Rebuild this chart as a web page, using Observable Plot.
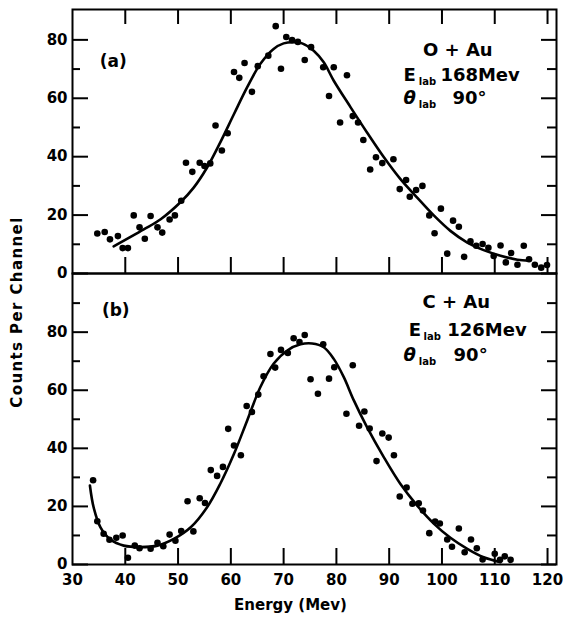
<!DOCTYPE html>
<html>
<head>
<meta charset="utf-8">
<script src="https://cdn.jsdelivr.net/npm/d3@7"></script>
<script src="https://cdn.jsdelivr.net/npm/@observablehq/plot@0.6"></script>
<style>
  html, body { margin: 0; padding: 0; background: #fff; overflow: hidden; }
  #chart { position: relative; width: 563px; height: 629px; font-family: "DejaVu Sans", sans-serif; color: #000; }
  #chart svg { display: block; }
  .ylabel {
    position: absolute; left: 17px; top: 312px;
    transform: translate(-50%, -50%) rotate(-90deg);
    white-space: nowrap; font-weight: bold; font-size: 15px; letter-spacing: 1.4px;
  }
</style>
</head>
<body>
<div id="chart"><div class="ylabel">Counts Per Channel</div></div>
<script>
// Energy axis ticks and count axis ticks
const xTickLabels = [30, 40, 50, 60, 70, 80, 90, 100, 110, 120];
const xInnerTicks = [40, 50, 60, 70, 80, 90, 100, 110, 120];
const yMajor = [0, 20, 40, 60, 80];
const yMinorA = [10, 30, 50, 70];
const yMinorB = [10, 30, 50, 70, 90];

// (a) O + Au, E_lab 168 MeV: measured counts
const energyA = [34.7, 36.1, 37.1, 38.6, 39.5, 40.5, 41.6, 42.7, 43.7, 44.8, 46.1, 47.0, 48.4, 49.4, 50.6, 51.5, 52.7, 54.1, 55.0, 56.1, 57.1, 58.3, 59.4, 60.6, 61.6, 62.6, 64.0, 65.1, 67.1, 68.5, 69.5, 70.5, 71.6, 72.7, 74.0, 75.2, 77.5, 78.6, 79.5, 80.7, 82.0, 83.1, 84.1, 85.1, 86.4, 87.5, 88.7, 90.8, 92.0, 93.2, 93.9, 95.1, 96.3, 97.6, 98.6, 99.8, 101.0, 102.1, 103.2, 104.2, 105.4, 106.5, 107.7, 108.8, 109.8, 111.1, 112.1, 113.1, 114.3, 115.5, 116.5, 117.6, 118.8, 119.9];
const countsA = [13.7, 14.2, 11.7, 12.8, 8.7, 8.7, 19.9, 15.8, 11.9, 19.7, 15.8, 14.0, 18.5, 19.9, 24.9, 37.9, 34.8, 37.9, 36.8, 37.7, 50.7, 42.1, 48.0, 69.0, 67.0, 72.1, 62.2, 71.0, 74.6, 84.7, 70.1, 81.0, 79.9, 79.3, 73.1, 77.5, 70.6, 60.8, 70.6, 51.7, 67.9, 53.9, 51.7, 45.7, 35.6, 39.8, 37.8, 39.1, 28.9, 32.0, 26.3, 28.6, 30.0, 19.9, 13.8, 22.2, 6.8, 18.1, 16.0, 5.7, 11.0, 9.5, 10.1, 8.8, 6.0, 9.6, 3.8, 7.0, 3.0, 9.5, 4.9, 3.0, 2.0, 2.9];
// (a) fitted curve
const fitEnergyA = [37.8, 43.5, 46.7, 50.5, 53.0, 55.5, 58.0, 60.6, 63.1, 65.6, 68.1, 70.0, 71.9, 73.5, 75.7, 77.6, 79.5, 82.7, 85.8, 89.0, 92.1, 95.3, 98.5, 101.6, 104.8, 107.9, 111.1, 114.3, 116.5];
const fitCountsA = [9.3, 15.1, 18.6, 24.5, 29.5, 36.3, 44.9, 54.6, 63.8, 71.8, 76.9, 78.8, 79.2, 78.8, 76.3, 72.3, 66.0, 56.9, 48.3, 39.8, 32.4, 26.0, 19.8, 14.6, 10.6, 8.0, 6.1, 4.7, 4.35];

// (b) C + Au, E_lab 126 MeV: measured counts
const energyB = [33.9, 34.7, 35.9, 37.0, 38.3, 39.5, 40.5, 41.8, 42.7, 44.8, 46.1, 47.2, 48.4, 49.5, 50.6, 51.8, 52.9, 54.1, 55.1, 56.2, 57.4, 58.5, 59.5, 60.6, 61.9, 63.0, 64.0, 65.2, 66.2, 67.5, 68.4, 69.5, 70.8, 71.9, 73.0, 74.0, 75.1, 76.5, 77.5, 78.6, 79.6, 81.9, 83.1, 84.3, 85.3, 86.3, 87.6, 88.7, 89.9, 90.9, 92.0, 93.3, 94.4, 95.6, 96.4, 97.6, 98.7, 99.6, 101.0, 101.9, 103.2, 104.3, 105.5, 106.6, 107.7, 110.0, 111.0, 111.9, 113.0];
const countsB = [29.0, 14.9, 10.6, 8.5, 9.2, 10.0, 2.3, 6.5, 5.6, 5.4, 7.5, 6.3, 10.3, 8.2, 11.5, 21.8, 11.4, 22.8, 21.2, 32.5, 30.5, 33.6, 46.7, 41.0, 37.6, 54.6, 52.5, 58.5, 64.8, 72.5, 67.8, 73.9, 72.8, 77.9, 76.6, 79.0, 63.8, 58.8, 75.8, 64.0, 67.9, 51.9, 68.6, 47.8, 52.7, 46.8, 35.6, 45.1, 43.7, 37.6, 23.4, 26.5, 20.9, 21.1, 18.6, 10.8, 14.8, 14.1, 8.6, 6.1, 12.4, 4.2, 8.6, 5.6, 1.7, 3.7, 1.6, 2.8, 1.6];
// (b) fitted curve
const fitEnergyB = [33.3, 34.0, 35.3, 37.2, 39.7, 42.9, 46.1, 49.2, 52.4, 55.5, 58.0, 60.6, 63.1, 65.6, 68.1, 70.7, 73.2, 75.4, 77.6, 79.5, 81.4, 83.3, 85.8, 89.0, 92.1, 95.3, 98.5, 101.6, 104.8, 107.9, 111.1];
const fitCountsB = [27.2, 19.7, 12.8, 8.6, 6.5, 6.0, 6.5, 8.8, 12.8, 19.7, 27.8, 38.1, 49.6, 61.1, 69.1, 73.7, 75.8, 76.1, 74.8, 70.8, 64.5, 56.5, 47.3, 36.9, 27.8, 20.3, 14.0, 9.2, 5.4, 2.5, 0.8];

const pts = (xs, ys) => xs.map((x, i) => ({x, y: ys[i]}));

const WIDTH = 563, ML = 72, MR = 7;
const INNER_W = WIDTH - ML - MR;
const FONT = "'DejaVu Sans', sans-serif";
const xDomain = [30, 121.7];

// Inward-pointing frame ticks on the left and right edges
function sideTicks(minor) {
  return [
    Plot.tickY(yMajor, {y: d => d, insetRight: INNER_W - 16, strokeWidth: 2}),
    Plot.tickY(minor, {y: d => d, insetRight: INNER_W - 8, strokeWidth: 2}),
    Plot.tickY(yMajor, {y: d => d, insetLeft: INNER_W - 15, strokeWidth: 2}),
    Plot.tickY(minor, {y: d => d, insetLeft: INNER_W - 9, strokeWidth: 2})
  ];
}

// Reaction label block: "X + Au", "E lab <energy>", "θ lab 90°"
function reactionLabels(p) {
  const big = {fontSize: 18, fontWeight: "bold", letterSpacing: "1.5px", fontFamily: FONT};
  const sub = {fontSize: 10, fontWeight: "bold", fontFamily: FONT, textAnchor: "start"};
  return [
    Plot.text([p.title], {x: p.titleX, y: p.titleY, ...big}),
    Plot.text(["E"], {x: p.eX, y: p.eY, ...big, letterSpacing: "0px", textAnchor: "start"}),
    Plot.text(["lab"], {x: p.eSubX, y: p.eSubY, ...sub}),
    Plot.text([p.energy], {x: p.eValX, y: p.eY, ...big, letterSpacing: "3.2px", textAnchor: "start"}),
    Plot.text(["\u03b8"], {x: p.tX, y: p.tY, ...big, letterSpacing: "0px", fontStyle: "italic", textAnchor: "start"}),
    Plot.text(["lab"], {x: p.tSubX, y: p.tSubY, ...sub}),
    Plot.text(["90\u00b0"], {x: p.tValX, y: p.tY, ...big, textAnchor: "start"})
  ];
}

const yTickText = {anchor: "left", tickSize: 0, tickPadding: 5, label: null, fontSize: 15, fontWeight: "bold", fontFamily: FONT};

// Panel (a)
const topH = 273, topMT = 9;
const topInnerH = topH - topMT;
const panelA = Plot.plot({
  width: WIDTH, height: topH,
  marginLeft: ML, marginRight: MR, marginTop: topMT, marginBottom: 0,
  style: {fontFamily: FONT, color: "black", background: "white", overflow: "visible"},
  x: {domain: xDomain, axis: null},
  y: {domain: [0, 90.4]},
  marks: [
    ...sideTicks(yMinorA),
    Plot.tickX(xInnerTicks, {x: d => d, insetBottom: topInnerH - 15, strokeWidth: 2}),
    Plot.tickX(xInnerTicks, {x: d => d, insetTop: topInnerH - 16, strokeWidth: 2}),
    Plot.axisY(yMajor, yTickText),
    Plot.line(pts(fitEnergyA, fitCountsA), {x: "x", y: "y", curve: "catmull-rom", strokeWidth: 2.6}),
    Plot.dot(pts(energyA, countsA), {x: "x", y: "y", r: 3.3, fill: "black"}),
    Plot.text(["(a)"], {x: 37.7, y: 72.6, fontSize: 17, fontWeight: "bold", letterSpacing: "1px", fontFamily: FONT}),
    ...reactionLabels({
      title: "O + Au", titleX: 103.0, titleY: 76.3,
      eX: 92.7, eY: 67.9, eSubX: 95.6, eSubY: 65.6, energy: "168Mev", eValX: 99.7,
      tX: 92.7, tY: 59.9, tSubX: 95.6, tSubY: 57.8, tValX: 102.0
    }),
    Plot.frame({stroke: "black", strokeWidth: 2})
  ]
});

// Panel (b)
const botH = 356, botMB = 65;
const botInnerH = botH - botMB;
const panelB = Plot.plot({
  width: WIDTH, height: botH,
  marginLeft: ML, marginRight: MR, marginTop: 0, marginBottom: botMB,
  style: {fontFamily: FONT, color: "black", background: "white", overflow: "visible"},
  x: {domain: xDomain},
  y: {domain: [0, 100.2]},
  marks: [
    ...sideTicks(yMinorB),
    Plot.tickX(xInnerTicks, {x: d => d, insetTop: botInnerH - 16, strokeWidth: 2}),
    Plot.axisY(yMajor, yTickText),
    Plot.axisX(xTickLabels, {anchor: "bottom", tickSize: 0, tickPadding: 10, label: null, fontSize: 15, fontWeight: "bold", fontFamily: FONT}),
    Plot.line(pts(fitEnergyB, fitCountsB), {x: "x", y: "y", curve: "catmull-rom", strokeWidth: 2.6}),
    Plot.dot(pts(energyB, countsB), {x: "x", y: "y", r: 3.3, fill: "black"}),
    Plot.text(["(b)"], {x: 38.2, y: 87.3, fontSize: 17, fontWeight: "bold", letterSpacing: "1px", fontFamily: FONT}),
    ...reactionLabels({
      title: "C + Au", titleX: 102.7, titleY: 90.4,
      eX: 93.7, eY: 80.6, eSubX: 96.5, eSubY: 78.3, energy: "126Mev", eValX: 101.0,
      tX: 92.7, tY: 72.0, tSubX: 95.6, tSubY: 69.9, tValX: 102.2
    }),
    Plot.text(["Energy (Mev)"], {x: 71.3, frameAnchor: "bottom", dy: 45, fontSize: 15, fontWeight: "bold", fontFamily: FONT}),
    Plot.frame({stroke: "black", strokeWidth: 2})
  ]
});

const chart = document.getElementById("chart");
chart.appendChild(panelA);
chart.appendChild(panelB);
</script>
</body>
</html>
